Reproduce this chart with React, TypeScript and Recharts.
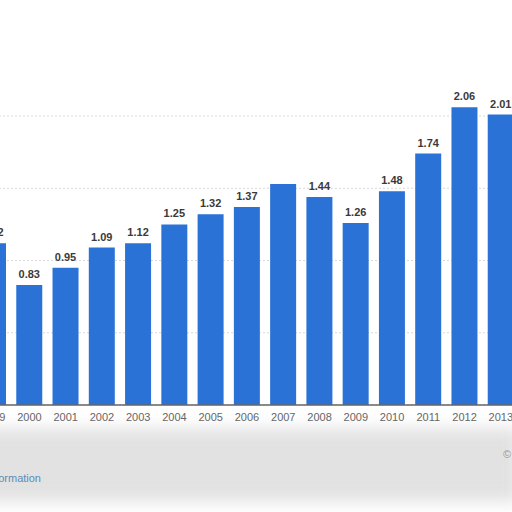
import { Bar, BarChart, CartesianGrid, LabelList, XAxis, YAxis } from "recharts";

const years = ["1999", "2000", "2001", "2002", "2003", "2004", "2005", "2006", "2007", "2008", "2009", "2010", "2011", "2012", "2013"];
const values = [1.12, 0.83, 0.95, 1.09, 1.12, 1.25, 1.32, 1.37, 1.53, 1.44, 1.26, 1.48, 1.74, 2.06, 2.01];
const yTicks = [0, 0.5, 1, 1.5, 2];
// labels that are covered in the source picture
const hiddenLabels = ["2007"];

const data = years.map((year, i) => ({ year, value: values[i] }));

export default function App() {
  return (
    <div
      style={{
        position: "fixed",
        left: 0,
        top: 0,
        width: 512,
        height: 512,
        overflow: "hidden",
        background: "#fff",
        fontFamily: "'Liberation Sans', Arial, sans-serif",
      }}
    >
      <div
        style={{
          position: "absolute",
          left: -20,
          top: 428,
          width: 540,
          height: 74,
          background: "#e2e2e2",
          filter: "blur(8px)",
        }}
      />
      <div style={{ position: "absolute", left: -25, top: 0 }}>
        <BarChart
          width={544}
          height={430}
          data={data}
          margin={{ top: 51, right: 0, left: 0, bottom: 0 }}
          barSize={26}
        >
          <CartesianGrid vertical={false} stroke="#d8d8d8" strokeDasharray="2 2" syncWithTicks />
          <XAxis
            dataKey="year"
            height={25}
            tickLine={false}
            axisLine={{ stroke: "#666", strokeWidth: 1.5 }}
            tick={{ fill: "#666", fontSize: 11 }}
            interval={0}
          />
          <YAxis hide domain={[0, 2.45]} ticks={yTicks} />
          <Bar dataKey="value" fill="#2a72d6" isAnimationActive={false}>
            <LabelList
              dataKey="value"
              position="top"
              offset={7}
              content={(props: any) => {
                const { x, y, width, value, index } = props;
                if (hiddenLabels.includes(years[index])) return null;
                return (
                  <text
                    x={x + width / 2}
                    y={y - 7}
                    textAnchor="middle"
                    fill="#3a3a3a"
                    fontSize={11}
                    fontWeight="bold"
                  >
                    {Number(value).toFixed(2)}
                  </text>
                );
              }}
            />
          </Bar>
        </BarChart>
      </div>
      <div
        style={{
          position: "absolute",
          left: -200,
          width: 241,
          top: 472,
          textAlign: "right",
          fontSize: 11,
          color: "#5a8cb8",
        }}
      >
        Additional Information
      </div>
      <div style={{ position: "absolute", left: 503, top: 448, fontSize: 11, color: "#999" }}>©</div>
    </div>
  );
}
